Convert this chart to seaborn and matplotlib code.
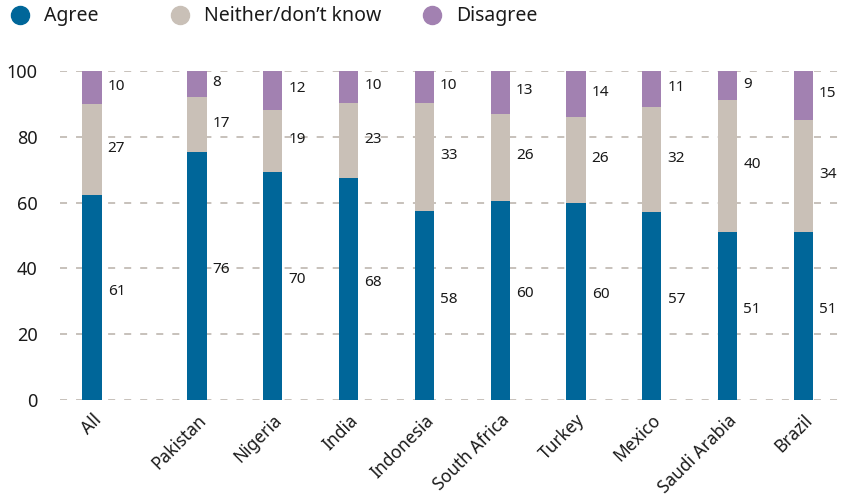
import numpy as np
import pandas as pd
import matplotlib
matplotlib.use("Agg")
import matplotlib.pyplot as plt
from matplotlib.lines import Line2D
import seaborn as sns

countries = ["All", "Pakistan", "Nigeria", "India", "Indonesia", "South Africa",
             "Turkey", "Mexico", "Saudi Arabia", "Brazil"]
agree = [61, 76, 70, 68, 58, 60, 60, 57, 51, 51]
neither = [27, 17, 19, 23, 33, 26, 26, 32, 40, 34]
disagree = [10, 8, 12, 10, 10, 13, 14, 11, 9, 15]
series = ["Agree", "Neither/don\u2019t know", "Disagree"]
colors = ["#006699", "#c9c0b7", "#a281b1"]
yticks = [0, 20, 40, 60, 80, 100]

sns.set_theme(style="white")
plt.rcParams["font.family"] = ["Noto Sans", "DejaVu Sans"]

# "All" sits apart from the individual countries
xpos = np.array([0.0] + [1.386 + i for i in range(len(countries) - 1)])

df = pd.DataFrame({"country": countries, "x": xpos,
                   "agree": agree, "neither": neither, "disagree": disagree})
total = df[["agree", "neither", "disagree"]].sum(axis=1)
df["agree_s"] = df["agree"] / total * 100
df["neither_s"] = df["neither"] / total * 100
df["disagree_s"] = df["disagree"] / total * 100
df["top1"] = df["agree_s"]
df["top2"] = df["agree_s"] + df["neither_s"]
df["top3"] = df["top2"] + df["disagree_s"]

fig = plt.figure(figsize=(8.46, 4.99), dpi=100)
ax = fig.add_axes([0.071, 0.198, 0.922, 0.660])

ax.set_axisbelow(True)
for t in yticks:
    ax.axhline(t, color="#b8b0a8", lw=1.1, ls=(0, (4.6, 5.9)), zorder=0)

bw = 0.255
for col, c in [("top3", colors[2]), ("top2", colors[1]), ("top1", colors[0])]:
    sns.barplot(data=df, x="x", y=col, native_scale=True, width=bw,
                color=c, saturation=1, ax=ax, errorbar=None, zorder=2,
                linewidth=0, edgecolor="none")

# value labels to the right of each segment
lab_kw = dict(ha="left", va="center", fontsize=11, color="#1a1a1a")
for _, r in df.iterrows():
    xl = r["x"] + bw / 2 + 0.08
    ax.text(xl, r["agree_s"] / 2 + 2, f"{int(r['agree'])}", **lab_kw)
    ax.text(xl, r["top1"] + r["neither_s"] / 2 + 0.5, f"{int(r['neither'])}", **lab_kw)
    ax.text(xl, r["top2"] + r["disagree_s"] / 2 + 0.5, f"{int(r['disagree'])}", **lab_kw)

ax.set_xlim(-0.42, 9.87)
ax.set_ylim(0, 100)
ax.set_yticks(yticks)
ax.set_yticklabels([str(t) for t in yticks], fontsize=13, color="#1a1a1a")
ax.set_xticks(xpos)
ax.set_xticklabels(countries, rotation=45, ha="right", rotation_mode="anchor",
                   fontsize=12.5, color="#1a1a1a")
ax.tick_params(axis="x", length=0, pad=8)
ax.tick_params(axis="y", length=0, pad=16)
ax.set_xlabel("")
ax.set_ylabel("")
for s in ax.spines.values():
    s.set_visible(False)

# legend row across the top
leg_marker_x = [20, 180, 432]
for name, c, mx in zip(series, colors, leg_marker_x):
    fig.add_artist(Line2D([mx / 846], [1 - 15 / 499], marker="o", markersize=13,
                          color=c, transform=fig.transFigure, lw=0))
    fig.text((mx + 24) / 846, 1 - 16 / 499, name, ha="left", va="center",
             fontsize=14, color="#1a1a1a")

fig.savefig("out.png", dpi=100)
